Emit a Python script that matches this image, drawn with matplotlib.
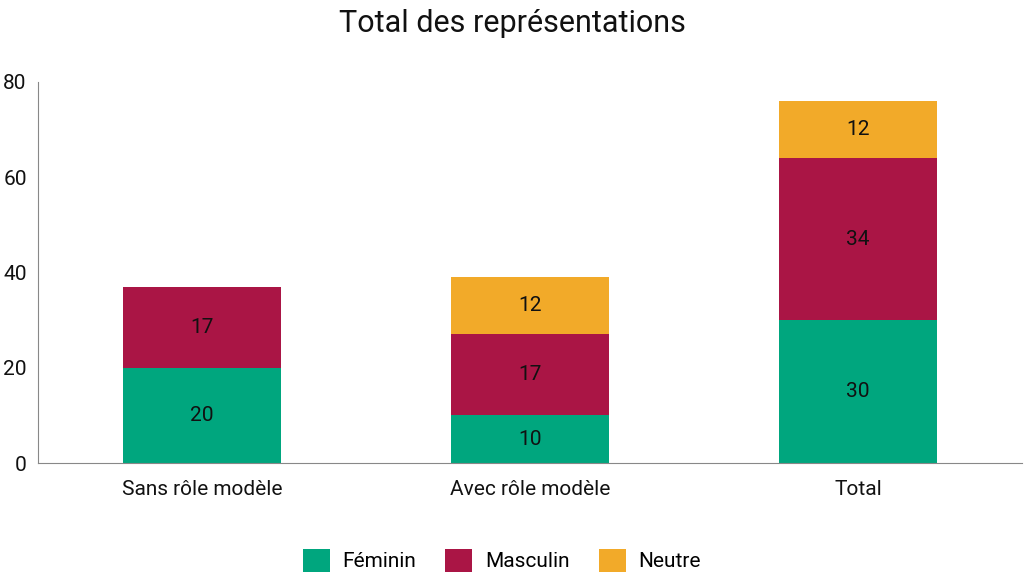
import matplotlib.pyplot as plt
import numpy as np

plt.rcParams['font.family'] = 'Roboto'

categories = ['Sans rôle modèle', 'Avec rôle modèle', 'Total']
feminin = [20, 10, 30]
masculin = [17, 17, 34]
neutre = [0, 12, 12]

colors = {'Féminin': '#00A67E', 'Masculin': '#AA1545', 'Neutre': '#F2AA29'}

fig = plt.figure(figsize=(10.24, 5.76), dpi=100)
ax = fig.add_axes([0.037, 0.196, 0.961, 0.662])

x = np.arange(len(categories))
width = 0.48
bottom = np.zeros(len(categories))
for name, vals in [('Féminin', feminin), ('Masculin', masculin), ('Neutre', neutre)]:
    vals = np.array(vals, dtype=float)
    bars = ax.bar(x, vals, width, bottom=bottom, color=colors[name], label=name)
    for xi, b, v in zip(x, bottom, vals):
        if v > 0:
            ax.text(xi, b + v / 2, f'{int(v)}', ha='center', va='center', fontsize=15, color='#111111')
    bottom += vals

ax.set_xlim(-0.5, 2.5)
ax.set_ylim(0, 80)
ax.set_yticks([0, 20, 40, 60, 80])
ax.set_xticks(x)
ax.set_xticklabels(categories)
ax.tick_params(axis='both', length=0, labelsize=15, colors='#111111')
ax.tick_params(axis='y', pad=8)
ax.tick_params(axis='x', pad=12)
for s in ['top', 'right']:
    ax.spines[s].set_visible(False)
for s in ['left', 'bottom']:
    ax.spines[s].set_color('#888888')
    ax.spines[s].set_linewidth(0.8)

fig.suptitle('Total des représentations', fontsize=22, y=0.985, color='#111111')
fig.legend(loc='lower center', ncol=3, frameon=False, fontsize=15,
           bbox_to_anchor=(0.49, -0.025), handlelength=1.3, handleheight=1.3,
           columnspacing=1.4, handletextpad=0.6)

fig.savefig('out.png', dpi=100)
